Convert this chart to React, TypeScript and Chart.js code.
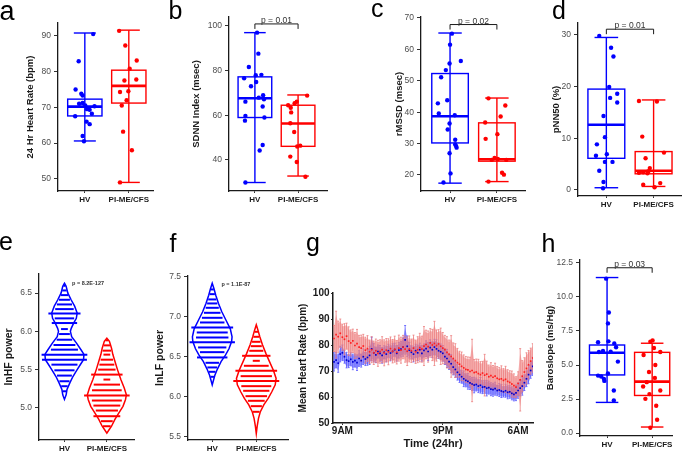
import React, { useEffect, useRef } from 'react';
import { Chart, registerables } from 'chart.js';

Chart.register(...registerables);

const FONT = "'Liberation Sans', Arial, Helvetica, sans-serif";
Chart.defaults.font.family = FONT;

const GROUPS = ['HV', 'PI-ME/CFS'];
const BLUE = '#0000ff';
const RED = '#ff0000';

// ---------- a: 24 Hr Heart Rate ----------
const A_HV = [90.5, 82.9, 75.0, 73.8, 73.3, 71.0, 71.2, 70.5, 70.3, 69.5, 69.3, 68.2, 67.5, 66.0, 65.3, 62.0, 60.5];
const A_HV_JIT = [0.19, -0.14, -0.21, -0.08, -0.05, -0.13, -0.05, 0.01, 0.22, 0.05, 0.11, 0.16, -0.22, 0.04, 0.11, -0.05, -0.02];
const A_PI = [91.4, 87.3, 83.1, 80.8, 77.8, 77.5, 74.3, 74.5, 72.0, 70.5, 63.2, 58.0, 49.0];
const A_PI_JIT = [-0.22, -0.08, 0.18, 0.02, 0.17, -0.10, -0.20, -0.01, -0.05, -0.16, -0.13, 0.07, -0.20];
const A_HV_BOX = [60.6, 67.6, 70.2, 72.3, 90.8];
const A_PI_BOX = [49.0, 71.2, 76.0, 80.4, 91.6];
const A_TICKS = [50, 60, 70, 80, 90];

// ---------- b: SDNN Index ----------
const B_HV = [97.0, 87.6, 81.6, 76.6, 77.9, 78.1, 74.9, 73.0, 69.0, 67.2, 67.9, 66.1, 63.9, 59.7, 57.6, 59.0, 46.7, 44.2, 29.9];
const B_HV_JIT = [0.05, 0.08, -0.14, -0.25, 0.02, 0.15, 0.03, -0.09, 0.19, 0.21, 0.09, -0.22, 0.18, -0.22, -0.23, 0.22, 0.18, 0.11, -0.22];
const B_PI = [68.8, 66.1, 65.4, 64.5, 63.4, 61.3, 56.4, 52.5, 46.4, 46.0, 41.5, 39.1, 32.5];
const B_PI_JIT = [0.21, -0.03, -0.08, -0.23, -0.17, -0.16, -0.18, -0.09, 0.05, -0.02, -0.18, -0.03, 0.17];
const B_HV_BOX = [29.9, 59.0, 67.6, 77.2, 97.0];
const B_PI_BOX = [32.8, 46.1, 56.3, 64.5, 69.1];
const B_TICKS = [40, 60, 80, 100];
const B_P = 'p = 0.01';
const B_BRACKET = 100.9;

// ---------- c: rMSSD ----------
const C_HV = [65.0, 61.5, 56.3, 55.5, 53.4, 51.1, 42.8, 43.8, 39.6, 39.0, 36.4, 34.5, 31.2, 29.7, 28.7, 29.2, 26.9, 20.5, 17.6];
const C_HV_JIT = [0.04, 0.0, 0.23, -0.01, -0.09, -0.19, -0.26, -0.06, -0.24, 0.10, -0.01, -0.05, 0.11, 0.11, 0.14, 0.13, -0.01, 0.01, -0.14];
const C_PI = [44.4, 42.1, 38.6, 36.7, 33.0, 31.5, 25.4, 25.1, 24.8, 24.8, 20.7, 20.1, 17.9];
const C_PI_JIT = [-0.18, 0.18, 0.08, -0.25, 0.01, -0.24, -0.05, 0.02, -0.11, 0.20, 0.11, 0.15, -0.18];
const C_HV_BOX = [17.4, 30.2, 38.7, 52.3, 65.2];
const C_PI_BOX = [17.9, 24.4, 25.0, 36.6, 44.5];
const C_TICKS = [20, 30, 40, 50, 60, 70];
const C_P = 'p = 0.02';
const C_BRACKET = 67.9;

// ---------- d: pNN50 ----------
const D_HV = [29.8, 27.5, 25.8, 19.9, 18.6, 17.8, 16.9, 14.3, 10.2, 8.8, 6.6, 6.9, 5.4, 5.4, 3.7, 1.5, 0.3];
const D_HV_JIT = [-0.15, 0.10, 0.15, 0.06, 0.23, 0.08, 0.23, -0.06, -0.03, -0.20, -0.22, 0.01, -0.03, 0.13, -0.15, -0.06, -0.07];
const D_PI = [17.2, 17.1, 10.3, 7.2, 6.1, 4.2, 3.6, 3.4, 3.2, 3.3, 1.3, 1.0, 0.5];
const D_PI_JIT = [-0.31, 0.07, -0.24, 0.22, -0.17, -0.08, -0.11, -0.22, -0.13, -0.31, 0.14, -0.22, 0.02];
const D_HV_BOX = [0.4, 6.1, 12.6, 19.5, 29.5];
const D_PI_BOX = [0.65, 3.1, 3.7, 7.4, 17.4];
const D_TICKS = [0, 10, 20, 30];
const D_P = 'p = 0.01';
const D_BRACKET = 31.1;

// ---------- h: Baroslope ----------
const H_HV = [11.35, 8.86, 8.06, 6.74, 6.67, 6.59, 6.30, 6.03, 5.98, 5.96, 5.25, 4.37, 4.22, 4.15, 3.98, 3.83, 3.13, 2.39];
const H_HV_JIT = [-0.02, 0.04, 0.02, 0.03, -0.20, 0.16, 0.20, -0.09, 0.08, -0.18, 0.24, 0.02, -0.20, -0.13, -0.07, -0.06, 0.15, 0.15];
const H_PI = [6.81, 6.71, 6.25, 5.96, 5.74, 5.00, 4.49, 4.05, 3.74, 3.42, 3.13, 2.86, 2.51, 2.00, 0.98, 0.39];
const H_PI_JIT = [0.01, -0.04, 0.04, 0.18, -0.19, 0.07, -0.07, 0.06, -0.12, -0.20, 0.18, -0.06, -0.15, 0.09, 0.11, -0.04];
const H_HV_BOX = [2.25, 4.27, 5.9, 6.47, 11.43];
const H_PI_BOX = [0.44, 2.76, 3.78, 5.93, 6.6];
const H_TICKS = [0, 2.5, 5, 7.5, 10, 12.5];
const H_P = 'p = 0.03';
const H_BRACKET = 12.15;

// ---------- e: lnHF power (bean plot) ----------
const E_HV_OUT_Y = [6.63, 6.59, 6.5, 6.41, 6.33, 6.24, 6.17, 6.11, 6.04, 6.0, 5.93, 5.85, 5.76, 5.70, 5.63, 5.57, 5.50, 5.41, 5.33, 5.24, 5.17, 5.11];
const E_HV_OUT_W = [0, 0.04, 0.08, 0.16, 0.24, 0.30, 0.28, 0.22, 0.16, 0.14, 0.17, 0.28, 0.39, 0.46, 0.45, 0.38, 0.30, 0.20, 0.13, 0.06, 0.04, 0];
const E_HV_LINES = [6.596, 6.535, 6.474, 6.413, 6.352, 6.291, 6.17, 5.965, 5.891, 5.822, 5.761, 5.565, 5.491, 5.422, 5.348, 5.283, 5.217];
const E_HV_LONG = [6.235, 6.109, 5.696, 5.63];
const E_HV_SHORT = [6.03];
const E_PI_OUT_Y = [5.91, 5.87, 5.78, 5.70, 5.61, 5.50, 5.37, 5.26, 5.17, 5.11, 5.02, 4.93, 4.85, 4.76, 4.72, 4.67];
const E_PI_OUT_W = [0, 0.06, 0.11, 0.14, 0.19, 0.25, 0.33, 0.41, 0.46, 0.44, 0.38, 0.28, 0.19, 0.11, 0.06, 0];
const E_PI_LINES = [5.883, 5.817, 5.748, 5.630, 5.565, 5.5, 5.304, 5.23, 5.096, 5.030, 4.965, 4.826, 4.76];
const E_PI_LONG = [5.435, 5.161, 4.891];
const E_PI_SHORT = [5.696, 5.37];
const E_TICKS = [5.0, 5.5, 6.0, 6.5];
const E_P = 'p = 8.2E-127';

// ---------- f: lnLF power (bean plot) ----------
const F_HV_OUT_Y = [7.42, 7.35, 7.27, 7.17, 7.06, 6.96, 6.85, 6.75, 6.69, 6.60, 6.52, 6.44, 6.35, 6.27, 6.21, 6.15];
const F_HV_OUT_W = [0, 0.04, 0.08, 0.14, 0.22, 0.31, 0.41, 0.45, 0.44, 0.38, 0.30, 0.20, 0.12, 0.06, 0.03, 0];
const F_HV_LINES = [7.396, 7.342, 7.283, 7.217, 7.167, 7.1125, 7.05, 6.9875, 6.929, 6.804, 6.742, 6.617, 6.558, 6.425, 6.367, 6.3125, 6.25];
const F_HV_LONG = [6.867, 6.683, 6.492];
const F_HV_SHORT: number[] = [];
const F_PI_OUT_Y = [6.90, 6.83, 6.75, 6.65, 6.54, 6.44, 6.33, 6.23, 6.15, 6.06, 5.98, 5.90, 5.81, 5.73, 5.63, 5.54];
const F_PI_OUT_W = [0, 0.04, 0.08, 0.14, 0.22, 0.30, 0.39, 0.45, 0.43, 0.35, 0.27, 0.17, 0.09, 0.05, 0.02, 0];
const F_PI_LINES = [6.8125, 6.75, 6.6875, 6.633, 6.575, 6.3875, 6.258, 6.133, 6.075, 6.008, 5.95, 5.883, 5.8125];
const F_PI_LONG = [6.5125, 6.325, 6.196];
const F_PI_SHORT = [6.45];
const F_TICKS = [5.5, 6.0, 6.5, 7.0, 7.5];
const F_P = 'p = 1.1E-87';

// ---------- g: mean heart rate over 24 h (every 15 min from 8:00) ----------
const G_START_HOUR = 8;
const G_STEP_HOURS = 0.25;
const G_HV = [
  73.5, 74.2, 73.0, 76.5, 77.0, 75.5, 74.2, 73.8, 74.5, 73.5, 74.0, 73.2,
  74.8, 74.0, 75.5, 74.6, 75.2, 76.0, 78.5, 77.0, 76.2, 77.5, 76.8, 76.0,
  77.2, 76.5, 77.8, 76.9, 77.5, 78.2, 76.8, 78.0, 78.4, 79.2, 82.0, 79.5,
  78.0, 77.2, 76.5, 77.8, 77.0, 78.2, 76.8, 77.9, 78.6, 77.5, 79.0, 78.2,
  79.2, 78.5, 77.8, 77.4, 76.8, 75.5, 74.8, 73.6, 72.8, 71.5, 70.6, 69.5,
  68.6, 67.8, 67.0, 66.4, 66.0, 65.4, 65.0, 64.6, 64.8, 64.2, 64.5, 63.8,
  63.9, 63.4, 63.6, 63.0, 62.8, 63.2, 62.5, 62.7, 62.3, 62.0, 62.4, 61.8,
  62.0, 61.4, 61.0, 61.6, 62.5, 63.4, 64.2, 65.5, 67.0, 68.6, 70.2, 71.8,
];
const G_HV_ERR = [
  3.5, 3, 3.5, 3, 3, 2.5, 3, 2.5, 2.5, 3, 2.5, 3,
  3, 2.5, 3, 2.5, 3, 3.5, 4.5, 3.5, 3, 2.5, 3, 3,
  2.5, 3, 2.5, 3, 3, 2.5, 3, 3, 3, 3.5, 5.5, 4,
  3, 2.5, 3, 2.5, 3, 2.5, 3, 2.5, 3, 3.5, 3, 3,
  3, 3.5, 3, 3, 3, 3, 3.5, 3, 3.5, 3, 3, 3,
  3, 2.5, 3, 2.5, 3, 2.5, 2.5, 3, 2.5, 2.5, 3, 2.5,
  2.5, 3, 2.5, 2.5, 2.5, 2.5, 2, 2.5, 2.5, 2, 2.5, 2.5,
  2.5, 2.5, 2.5, 3, 3, 3, 3.5, 3, 3, 3.5, 3, 3.5,
];
const G_PI = [
  82.5, 84.0, 83.2, 84.5, 83.0, 82.2, 83.4, 81.5, 80.8, 81.6, 79.8, 80.5,
  79.2, 78.8, 79.6, 78.0, 78.6, 77.4, 78.2, 77.0, 77.8, 76.8, 77.5, 78.2,
  77.0, 78.0, 77.4, 78.6, 77.6, 78.4, 77.2, 78.8, 78.0, 79.2, 78.4, 77.6,
  78.5, 77.8, 78.8, 77.4, 78.2, 79.0, 78.4, 79.6, 80.2, 79.4, 80.8, 80.0,
  80.6, 79.8, 80.4, 79.5, 78.8, 78.2, 77.2, 76.4, 75.6, 74.8, 74.0, 73.2,
  72.6, 71.8, 71.2, 70.6, 70.4, 69.8, 70.2, 69.4, 69.6, 69.0, 68.6, 69.2,
  68.4, 68.8, 67.8, 68.2, 67.6, 68.0, 67.2, 66.8, 67.0, 66.4, 66.8, 66.0,
  65.6, 65.0, 64.4, 63.8, 65.2, 66.6, 68.0, 69.6, 71.0, 72.4, 73.8, 75.0,
];
const G_PI_ERR = [
  5, 9, 6, 5.5, 5, 6, 5, 5.5, 5, 4.5, 5, 5.5,
  4.5, 5, 4.5, 5, 5, 4.5, 5, 4.5, 4.5, 5, 4.5, 5,
  5, 4.5, 5, 4.5, 4.5, 5, 4.5, 5, 5, 4.5, 5, 5.5,
  5, 4.5, 5, 4.5, 5, 5.5, 5, 7.5, 5.5, 6, 5.5, 6,
  8.5, 6, 5.5, 7, 6, 5.5, 6, 5.5, 8, 6, 6.5, 5.5,
  5, 5.5, 5, 5, 5, 5.5, 12, 5, 5, 5.5, 5, 4.5,
  8, 5, 4.5, 5, 4.5, 5, 4.5, 4.5, 5, 4.5, 5, 4.5,
  4.5, 5, 4.5, 4, 4.5, 12, 6, 5.5, 6, 5.5, 5, 5.5,
];
const G_TICK_HOURS = [9, 21, 30];
const G_TICK_LABELS = ['9AM', '9PM', '6AM'];
const G_Y_TICKS = [50, 60, 70, 80, 90, 100];

// ---------- helpers ----------
const BOX_W = 0.78;
const CAP_W = 0.5;

function seg(ctx: any, x1: number, y1: number, x2: number, y2: number) {
  ctx.beginPath();
  ctx.moveTo(x1, y1);
  ctx.lineTo(x2, y2);
  ctx.stroke();
}

function groupXAxis(min: number, max: number, hx: number) {
  return {
    type: 'linear',
    min,
    max,
    afterFit: (s: any) => { s.height = hx; },
    afterBuildTicks: (s: any) => { s.ticks = [{ value: 1 }, { value: 2 }]; },
    ticks: {
      callback: (v: any) => GROUPS[Math.round(Number(v)) - 1],
      font: { family: FONT, size: 8, weight: 'bold' },
      color: '#1a1a1a',
      padding: 2,
      maxRotation: 0,
      autoSkip: false,
    },
    grid: { display: true, drawOnChartArea: false, drawTicks: true, tickLength: 2, color: '#333' },
    border: { display: true, color: '#1a1a1a', width: 1.3 },
  };
}

function valueYAxis(min: number, max: number, ticks: number[], wy: number, title: string, titlePad: number, titleSize: number, digits: number) {
  return {
    type: 'linear',
    min,
    max,
    afterFit: (s: any) => { s.width = wy; },
    afterBuildTicks: (s: any) => { s.ticks = ticks.map((v) => ({ value: v })); },
    ticks: {
      callback: (v: any) => Number(v).toFixed(digits),
      font: { family: FONT, size: 8.5 },
      color: '#4d4d4d',
      padding: 3,
      autoSkip: false,
    },
    grid: { display: true, drawOnChartArea: false, drawTicks: true, tickLength: 4, color: '#333' },
    border: { display: true, color: '#1a1a1a', width: 1.3 },
    title: {
      display: true,
      text: title,
      font: { family: FONT, size: titleSize, weight: 'bold' },
      color: '#1a1a1a',
      padding: { top: titlePad, bottom: 0 },
    },
  };
}

function makeBoxChart(p: any) {
  const plugin = {
    id: 'boxes',
    beforeDatasetsDraw(chart: any) {
      const ctx = chart.ctx;
      const xs = chart.scales.x;
      const ys = chart.scales.y;
      const groups = [{ x: 1, s: p.hvBox, c: BLUE }, { x: 2, s: p.piBox, c: RED }];
      ctx.save();
      for (const g of groups) {
        const [mn, q1, md, q3, mx] = g.s;
        const cx = xs.getPixelForValue(g.x);
        const bl = xs.getPixelForValue(g.x - BOX_W / 2);
        const br = xs.getPixelForValue(g.x + BOX_W / 2);
        const cl = xs.getPixelForValue(g.x - CAP_W / 2);
        const cr = xs.getPixelForValue(g.x + CAP_W / 2);
        ctx.strokeStyle = g.c;
        ctx.lineWidth = 1.4;
        seg(ctx, cx, ys.getPixelForValue(mn), cx, ys.getPixelForValue(mx));
        seg(ctx, cl, ys.getPixelForValue(mn), cr, ys.getPixelForValue(mn));
        seg(ctx, cl, ys.getPixelForValue(mx), cr, ys.getPixelForValue(mx));
        ctx.strokeRect(bl, ys.getPixelForValue(q3), br - bl, ys.getPixelForValue(q1) - ys.getPixelForValue(q3));
        ctx.lineWidth = 2.6;
        seg(ctx, bl, ys.getPixelForValue(md), br, ys.getPixelForValue(md));
      }
      if (p.bracketY !== undefined) {
        const y0 = ys.getPixelForValue(p.bracketY);
        const x1 = xs.getPixelForValue(1);
        const x2 = xs.getPixelForValue(2);
        ctx.strokeStyle = '#1a1a1a';
        ctx.lineWidth = 1;
        ctx.beginPath();
        ctx.moveTo(x1, y0 + 5);
        ctx.lineTo(x1, y0);
        ctx.lineTo(x2, y0);
        ctx.lineTo(x2, y0 + 5);
        ctx.stroke();
        ctx.fillStyle = '#333';
        ctx.font = `8.5px ${FONT}`;
        ctx.textAlign = 'center';
        ctx.textBaseline = 'alphabetic';
        ctx.fillText(p.pText, (x1 + x2) / 2, y0 - 1);
      }
      ctx.restore();
    },
  };
  return {
    type: 'scatter',
    data: {
      datasets: [
        { data: p.hv.map((v: number, i: number) => ({ x: 1 + p.hvJit[i], y: v })), backgroundColor: BLUE, pointRadius: 2.2, pointBorderWidth: 0 },
        { data: p.pi.map((v: number, i: number) => ({ x: 2 + p.piJit[i], y: v })), backgroundColor: RED, pointRadius: 2.2, pointBorderWidth: 0 },
      ],
    },
    options: {
      animation: false,
      responsive: false,
      devicePixelRatio: 1,
      layout: { padding: { left: 0, top: p.g.top, right: p.g.right, bottom: 0 } },
      plugins: { legend: { display: false }, tooltip: { enabled: false } },
      scales: {
        x: groupXAxis(p.xMin, p.xMax, p.g.hx),
        y: valueYAxis(p.yMin, p.yMax, p.ticks, p.g.wy, p.title, p.g.titlePad, 9.5, p.digits || 0),
      },
    },
    plugins: [plugin],
  };
}

function interpW(oy: number[], ow: number[], y: number) {
  for (let i = 0; i < oy.length - 1; i++) {
    if (y <= oy[i] && y >= oy[i + 1]) {
      const t = (oy[i] - y) / (oy[i] - oy[i + 1]);
      return ow[i] + t * (ow[i + 1] - ow[i]);
    }
  }
  return 0;
}

function makeBeanChart(p: any) {
  const plugin = {
    id: 'beans',
    afterDatasetsDraw(chart: any) {
      const ctx = chart.ctx;
      const xs = chart.scales.x;
      const ys = chart.scales.y;
      ctx.save();
      const draw = (b: any, cx: number, color: string) => {
        const X = (u: number) => xs.getPixelForValue(cx + u);
        ctx.strokeStyle = color;
        ctx.lineWidth = 1.5;
        ctx.beginPath();
        b.oy.forEach((y: number, i: number) => {
          const px = X(b.ow[i]);
          const py = ys.getPixelForValue(y);
          if (i) ctx.lineTo(px, py); else ctx.moveTo(px, py);
        });
        for (let i = b.oy.length - 1; i >= 0; i--) ctx.lineTo(X(-b.ow[i]), ys.getPixelForValue(b.oy[i]));
        ctx.closePath();
        ctx.stroke();
        ctx.lineWidth = 2;
        const hl = (y: number, hw: number) => {
          const py = ys.getPixelForValue(y);
          seg(ctx, X(-hw), py, X(hw), py);
        };
        b.lines.forEach((y: number) => hl(y, interpW(b.oy, b.ow, y) * 0.82));
        b.long.forEach((y: number) => hl(y, interpW(b.oy, b.ow, y) + 0.08));
        b.short.forEach((y: number) => hl(y, 0.08));
      };
      draw(p.hv, 1, BLUE);
      draw(p.pi, 2, RED);
      ctx.fillStyle = '#333';
      ctx.font = `bold 5.5px ${FONT}`;
      ctx.textAlign = 'left';
      ctx.textBaseline = 'middle';
      ctx.fillText(p.pText, xs.getPixelForValue(p.pX), ys.getPixelForValue(p.pY));
      ctx.restore();
    },
  };
  return {
    type: 'scatter',
    data: { datasets: [] },
    options: {
      animation: false,
      responsive: false,
      devicePixelRatio: 1,
      layout: { padding: { left: 0, top: p.g.top, right: p.g.right, bottom: 0 } },
      plugins: { legend: { display: false }, tooltip: { enabled: false } },
      scales: {
        x: groupXAxis(p.xMin, p.xMax, p.g.hx),
        y: valueYAxis(p.yMin, p.yMax, p.ticks, p.g.wy, p.title, p.g.titlePad, 10.5, 1),
      },
    },
    plugins: [plugin],
  };
}

function makeTimeChart() {
  const hours = G_HV.map((_, i) => G_START_HOUR + i * G_STEP_HOURS);
  const series = [
    { mean: G_HV, err: G_HV_ERR, fill: 'rgba(80,80,255,0.55)', bar: 'rgba(70,70,255,0.7)' },
    { mean: G_PI, err: G_PI_ERR, fill: 'rgba(238,125,125,0.55)', bar: 'rgba(235,120,120,0.75)' },
  ];
  const plugin = {
    id: 'errbars',
    beforeDatasetsDraw(chart: any) {
      const ctx = chart.ctx;
      const xs = chart.scales.x;
      const ys = chart.scales.y;
      const a = chart.chartArea;
      ctx.save();
      ctx.beginPath();
      ctx.rect(a.left, a.top, a.right - a.left, a.bottom - a.top);
      ctx.clip();
      for (const s of series) {
        ctx.beginPath();
        s.mean.forEach((m: number, i: number) => {
          const px = xs.getPixelForValue(hours[i]);
          const py = ys.getPixelForValue(m + s.err[i] * 0.85);
          if (i) ctx.lineTo(px, py); else ctx.moveTo(px, py);
        });
        for (let i = s.mean.length - 1; i >= 0; i--) {
          ctx.lineTo(xs.getPixelForValue(hours[i]), ys.getPixelForValue(s.mean[i] - s.err[i] * 0.85));
        }
        ctx.closePath();
        ctx.fillStyle = s.fill;
        ctx.fill();
        ctx.strokeStyle = s.bar;
        ctx.lineWidth = 1;
        s.mean.forEach((m: number, i: number) => {
          const px = xs.getPixelForValue(hours[i]);
          const top = ys.getPixelForValue(m + s.err[i]);
          const bot = ys.getPixelForValue(m - s.err[i]);
          seg(ctx, px, top, px, bot);
          seg(ctx, px - 1, top, px + 1, top);
          seg(ctx, px - 1, bot, px + 1, bot);
        });
      }
      ctx.restore();
    },
  };
  return {
    type: 'scatter',
    data: {
      datasets: [
        { data: G_PI.map((v, i) => ({ x: hours[i], y: v })), backgroundColor: '#ff2020', pointRadius: 1.2, pointStyle: 'rect', pointBorderWidth: 0, order: 0 },
        { data: G_HV.map((v, i) => ({ x: hours[i], y: v })), backgroundColor: '#0000d0', pointRadius: 1.2, pointStyle: 'rect', pointBorderWidth: 0, order: 1 },
      ],
    },
    options: {
      animation: false,
      responsive: false,
      devicePixelRatio: 1,
      layout: { padding: { left: 0, top: 68, right: 7, bottom: 0 } },
      plugins: { legend: { display: false }, tooltip: { enabled: false } },
      scales: {
        x: {
          type: 'linear',
          min: 7.88,
          max: 31.78,
          afterFit: (s: any) => { s.height = 32; },
          afterBuildTicks: (s: any) => { s.ticks = G_TICK_HOURS.map((v) => ({ value: v })); },
          ticks: {
            callback: (v: any) => G_TICK_LABELS[G_TICK_HOURS.indexOf(Number(v))],
            font: { family: FONT, size: 10, weight: 'bold' },
            color: '#1a1a1a',
            padding: 0,
            maxRotation: 0,
            autoSkip: false,
          },
          grid: { display: true, drawOnChartArea: false, drawTicks: true, tickLength: 2, color: '#333' },
          border: { display: true, color: '#1a1a1a', width: 1.5 },
          title: { display: true, text: 'Time (24hr)', font: { family: FONT, size: 11, weight: 'bold' }, color: '#1a1a1a', padding: { top: 0, bottom: 4.4 } },
        },
        y: {
          type: 'linear',
          min: 50,
          max: 100,
          afterFit: (s: any) => { s.width = 38; },
          afterBuildTicks: (s: any) => { s.ticks = G_Y_TICKS.map((v) => ({ value: v })); },
          ticks: { font: { family: FONT, size: 10, weight: 'bold' }, color: '#1a1a1a', padding: 1.5, autoSkip: false },
          grid: { display: true, drawOnChartArea: false, drawTicks: true, tickLength: 2, color: '#333' },
          border: { display: true, color: '#1a1a1a', width: 1.5 },
          title: { display: true, text: 'Mean Heart Rate (bpm)', font: { family: FONT, size: 10, weight: 'bold' }, color: '#1a1a1a', padding: { top: 2.3, bottom: 0 } },
        },
      },
    },
    plugins: [plugin],
  };
}

function ChartCanvas({ left, top, width, height, make }: any) {
  const ref = useRef<HTMLCanvasElement | null>(null);
  useEffect(() => {
    const chart = new Chart(ref.current as any, make());
    return () => chart.destroy();
  }, []);
  return (
    <canvas
      ref={ref}
      width={width}
      height={height}
      style={{ position: 'absolute', left, top, width, height }}
    />
  );
}

const LETTERS = [
  { t: 'a', x: -0.5, y: -2.4, s: 27 },
  { t: 'b', x: 168.5, y: -2.2, s: 25 },
  { t: 'c', x: 371, y: -3.9, s: 25 },
  { t: 'd', x: 552, y: -1.9, s: 25 },
  { t: 'e', x: -1, y: 228.8, s: 25 },
  { t: 'f', x: 169.5, y: 230.5, s: 25 },
  { t: 'g', x: 306, y: 230.1, s: 25 },
  { t: 'h', x: 541.5, y: 230.5, s: 25 },
];

export default function App() {
  const panels = [
    {
      key: 'a', left: 0, top: 0, width: 165, height: 215,
      make: () => makeBoxChart({
        hv: A_HV, hvJit: A_HV_JIT, pi: A_PI, piJit: A_PI_JIT, hvBox: A_HV_BOX, piBox: A_PI_BOX,
        yMin: 46.6, yMax: 93.6, ticks: A_TICKS, title: '24 Hr Heart Rate (bpm)', xMin: 0.39, xMax: 2.55,
        g: { wy: 58, top: 23, right: 12, hx: 24, titlePad: 24.3 },
      }),
    },
    {
      key: 'b', left: 165, top: 0, width: 170, height: 215,
      make: () => makeBoxChart({
        hv: B_HV, hvJit: B_HV_JIT, pi: B_PI, piJit: B_PI_JIT, hvBox: B_HV_BOX, piBox: B_PI_BOX,
        yMin: 26.1, yMax: 104, ticks: B_TICKS, title: 'SDNN Index (msec)', xMin: 0.4, xMax: 2.67,
        bracketY: B_BRACKET, pText: B_P,
        g: { wy: 64, top: 17, right: 8, hx: 24, titlePad: 26 },
      }),
    },
    {
      key: 'c', left: 335, top: 0, width: 200, height: 215,
      make: () => makeBoxChart({
        hv: C_HV, hvJit: C_HV_JIT, pi: C_PI, piJit: C_PI_JIT, hvBox: C_HV_BOX, piBox: C_PI_BOX,
        yMin: 14.9, yMax: 70.3, ticks: C_TICKS, title: 'rMSSD (msec)', xMin: 0.38, xMax: 2.6,
        bracketY: C_BRACKET, pText: C_P,
        g: { wy: 86, top: 17, right: 10, hx: 24, titlePad: 58.3 },
      }),
    },
    {
      key: 'd', left: 535, top: 0, width: 150, height: 215,
      make: () => makeBoxChart({
        hv: D_HV, hvJit: D_HV_JIT, pi: D_PI, piJit: D_PI_JIT, hvBox: D_HV_BOX, piBox: D_PI_BOX,
        yMin: -1.2, yMax: 32.3, ticks: D_TICKS, title: 'pNN50 (%)', xMin: 0.4, xMax: 2.58,
        bracketY: D_BRACKET, pText: D_P,
        g: { wy: 43, top: 23, right: 2, hx: 19, titlePad: 16 },
      }),
    },
    {
      key: 'e', left: 0, top: 225, width: 150, height: 230,
      make: () => makeBeanChart({
        hv: { oy: E_HV_OUT_Y, ow: E_HV_OUT_W, lines: E_HV_LINES, long: E_HV_LONG, short: E_HV_SHORT },
        pi: { oy: E_PI_OUT_Y, ow: E_PI_OUT_W, lines: E_PI_LINES, long: E_PI_LONG, short: E_PI_SHORT },
        yMin: 4.58, yMax: 6.75, ticks: E_TICKS, title: 'lnHF power', xMin: 0.4, xMax: 2.64,
        pText: E_P, pX: 1.18, pY: 6.62,
        g: { wy: 39, top: 49, right: 16, hx: 15, titlePad: 2.4 },
      }),
    },
    {
      key: 'f', left: 150, top: 225, width: 145, height: 230,
      make: () => makeBeanChart({
        hv: { oy: F_HV_OUT_Y, ow: F_HV_OUT_W, lines: F_HV_LINES, long: F_HV_LONG, short: F_HV_SHORT },
        pi: { oy: F_PI_OUT_Y, ow: F_PI_OUT_W, lines: F_PI_LINES, long: F_PI_LONG, short: F_PI_SHORT },
        yMin: 5.46, yMax: 7.51, ticks: F_TICKS, title: 'lnLF power', xMin: 0.45, xMax: 2.72,
        pText: F_P, pX: 1.21, pY: 7.41,
        g: { wy: 38, top: 51, right: 7, hx: 15, titlePad: 3.7 },
      }),
    },
    { key: 'g', left: 295, top: 225, width: 245, height: 230, make: makeTimeChart },
    {
      key: 'h', left: 535, top: 225, width: 150, height: 230,
      make: () => makeBoxChart({
        hv: H_HV, hvJit: H_HV_JIT, pi: H_PI, piJit: H_PI_JIT, hvBox: H_HV_BOX, piBox: H_PI_BOX,
        yMin: -0.22, yMax: 12.72, ticks: H_TICKS, title: 'Baroslope (ms/Hg)', xMin: 0.4, xMax: 2.44,
        bracketY: H_BRACKET, pText: H_P, digits: 1,
        g: { wy: 45, top: 35, right: 13, hx: 19, titlePad: 9.3 },
      }),
    },
  ];
  return (
    <div style={{ position: 'absolute', left: 0, top: 0, width: 685, height: 455, background: '#fff', overflow: 'hidden' }}>
      {panels.map((p) => (
        <ChartCanvas key={p.key} left={p.left} top={p.top} width={p.width} height={p.height} make={p.make} />
      ))}
      {LETTERS.map((l) => (
        <span
          key={l.t}
          style={{ position: 'absolute', left: l.x, top: l.y, fontFamily: FONT, fontSize: l.s, lineHeight: `${l.s}px`, color: '#000', whiteSpace: 'nowrap' }}
        >
          {l.t}
        </span>
      ))}
    </div>
  );
}
